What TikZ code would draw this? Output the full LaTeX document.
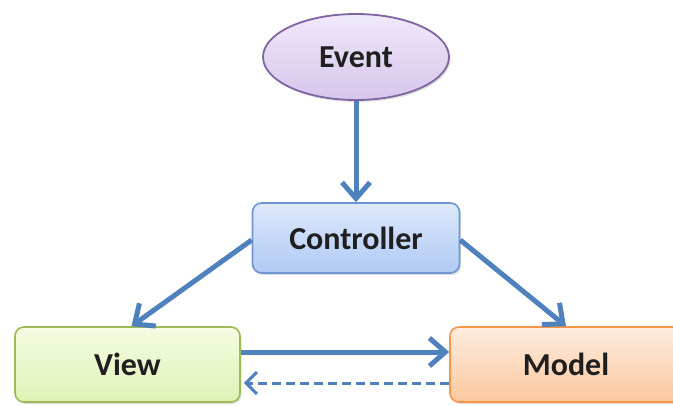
\documentclass[tikz,border=0pt]{standalone}
\usepackage{fontspec}
\setmainfont{Carlito}
\usetikzlibrary{arrows.meta,shadows,calc,shapes.geometric}

\definecolor{linkblue}{RGB}{79,129,189}
\definecolor{evtborder}{RGB}{128,100,162}
\definecolor{evttop}{RGB}{240,232,250}
\definecolor{evtbot}{RGB}{214,198,236}
\definecolor{ctlborder}{RGB}{110,150,210}
\definecolor{ctltop}{RGB}{222,232,252}
\definecolor{ctlbot}{RGB}{176,202,244}
\definecolor{viewborder}{RGB}{155,187,89}
\definecolor{viewtop}{RGB}{244,252,226}
\definecolor{viewbot}{RGB}{222,242,180}
\definecolor{modelborder}{RGB}{247,150,70}
\definecolor{modeltop}{RGB}{254,236,222}
\definecolor{modelbot}{RGB}{251,200,158}

\tikzset{
  label text/.style={font=\bfseries\fontsize{32}{36}\selectfont, text=black!88},
  softshadow/.style={drop shadow={opacity=0.25, shadow xshift=1.5pt, shadow yshift=-2pt}},
  boxnode/.style={rectangle, rounded corners=9pt, line width=1.6pt, label text, softshadow},
  link/.style={draw=linkblue, line width=5pt, -{Straight Barb[length=16pt,width=28pt]}},
  backlink/.style={draw=linkblue, line width=3pt, dash pattern=on 9pt off 5pt,
                   -{Straight Barb[length=11pt,width=22pt]}}
}

\begin{document}
\begin{tikzpicture}[x=1pt,y=-1pt]
  \useasboundingbox (0,0) rectangle (673,405);

  % nodes
  \node[ellipse, draw=evtborder, line width=1.8pt, top color=evttop, bottom color=evtbot,
        minimum width=186pt, minimum height=86pt, inner sep=0pt, label text, softshadow]
        (event) at (356,57) {Event};
  \node[boxnode, draw=ctlborder, top color=ctltop, bottom color=ctlbot,
        minimum width=207pt, minimum height=70pt] (ctrl) at (356,238) {Controller};
  \node[boxnode, draw=viewborder, top color=viewtop, bottom color=viewbot,
        minimum width=225pt, minimum height=75pt] (view) at (127.5,364.5) {View};
  \node[boxnode, draw=modelborder, top color=modeltop, bottom color=modelbot,
        minimum width=232pt, minimum height=75pt] (model) at (566,364.5) {Model};

  % connectors
  \draw[link] (event.south) -- (ctrl.north);
  \draw[link] ([yshift=-2pt]ctrl.west) -- ([xshift=4pt]view.north);
  \draw[link] ([yshift=-2pt]ctrl.east) -- (model.north);
  \draw[link] ([yshift=12.5pt]view.east) -- ([yshift=12.5pt]model.west);
  \draw[backlink] ([yshift=-18.5pt]model.west) -- ([xshift=3pt,yshift=-18.5pt]view.east);
\end{tikzpicture}
\end{document}
